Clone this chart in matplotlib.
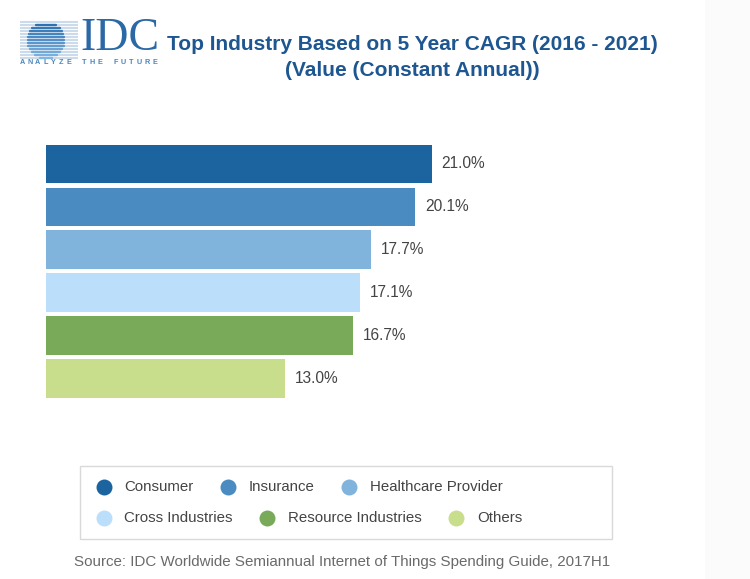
import numpy as np
import matplotlib
matplotlib.use("Agg")
import matplotlib.pyplot as plt
from matplotlib.patches import Rectangle

plt.rcParams['font.family'] = ['Liberation Sans', 'DejaVu Sans']

# ---- data ----
categories = ["Consumer", "Insurance", "Healthcare Provider",
              "Cross Industries", "Resource Industries", "Others"]
cagr = [21.0, 20.1, 17.7, 17.1, 16.7, 13.0]
colors = ["#1b64a0", "#4a8cc1", "#80b4dd", "#bbdffb", "#78aa5a", "#c9de8c"]
title_lines = ["Top Industry Based on 5 Year CAGR (2016 - 2021)",
               "(Value (Constant Annual))"]
source = "Source: IDC Worldwide Semiannual Internet of Things Spending Guide, 2017H1"
tagline = "ANALYZE THE FUTURE"

W, H = 750, 579
fig = plt.figure(figsize=(W / 100, H / 100), dpi=100)
fig.patch.set_facecolor("white")

# overlay axes in pixel coordinates
ov = fig.add_axes([0, 0, 1, 1])
ov.set_xlim(0, W)
ov.set_ylim(H, 0)
ov.axis("off")
ov.add_patch(Rectangle((705, 0), 45, H, facecolor="#fbfbfb", edgecolor="none"))

# ---- bar chart ----
ax_left, ax_right = 46, 500
ax_top, ax_bot = 142.5, 400
ax = fig.add_axes([ax_left / W, 1 - ax_bot / H, (ax_right - ax_left) / W, (ax_bot - ax_top) / H])
ax.set_facecolor("none")
scale = (432 - 46) / 21.0
ax.set_xlim(0, (ax_right - ax_left) / scale)
ypos = np.arange(len(categories))
ax.barh(ypos, cagr, height=0.9, color=colors, edgecolor="none")
ax.set_ylim(len(categories) - 0.5, -0.5)
for y, v in zip(ypos, cagr):
    ax.annotate(f"{v:.1f}%", (v, y), xytext=(7, 0), textcoords="offset points",
                va="center", ha="left", fontsize=11.2, color="#444444")
ax.axis("off")

# ---- title ----
ov.text(412, 44, title_lines[0], ha="center", va="center", fontsize=15,
        fontweight="bold", color="#1d5690")
ov.text(412, 70, title_lines[1], ha="center", va="center", fontsize=15,
        fontweight="bold", color="#1d5690")

# ---- IDC logo ----
cx, cy, r = 46, 40, 18.5
light = np.array([0.80, 0.86, 0.92])
dark = np.array([0.15, 0.42, 0.68])
pale = np.array([0.52, 0.72, 0.89])
for yy in np.arange(21.5, 60, 3.0):
    ov.plot([20, 78], [yy, yy], color=light, lw=1.5, solid_capstyle="butt")
    dy = yy - cy
    if abs(dy) < r:
        half = np.sqrt(r * r - dy * dy)
        f = (yy - (cy - r)) / (2 * r)
        col = dark * (1 - f) + pale * f
        ov.plot([cx - half, cx + half], [yy, yy], color=col, lw=1.7,
                solid_capstyle="round")
ov.text(120, 39, "IDC", ha="center", va="center", fontsize=33,
        family="Liberation Serif", color="#2a68a6")
xs = np.linspace(22, 155, len(tagline))
for ch, xx in zip(tagline, xs):
    ov.text(xx, 63, ch, ha="center", va="center", fontsize=5.2,
            color="#4a86bd", fontweight="bold")

# ---- legend (flow layout) ----
ov.add_patch(Rectangle((80, 465.5), 532, 73, facecolor="white",
                       edgecolor="#d9d9d9", lw=1.0))
fig.canvas.draw()
renderer = fig.canvas.get_renderer()
rows = [categories[:3], categories[3:]]
row_y = [487, 518]
k = 0
for row, yy in zip(rows, row_y):
    x = 103.5
    for name in row:
        ov.plot([x], [yy], marker="o", markersize=11.5, color=colors[k],
                markeredgecolor="none")
        t = ov.text(x + 21, yy, name, ha="left", va="center", fontsize=10.8,
                    color="#444444")
        bb = t.get_window_extent(renderer=renderer)
        x = x + 21 + bb.width + 34
        k += 1

# ---- source ----
ov.text(342, 562, source, ha="center", va="center", fontsize=10.9, color="#6a6a6a")

fig.savefig("out.png", dpi=100, facecolor="white")
